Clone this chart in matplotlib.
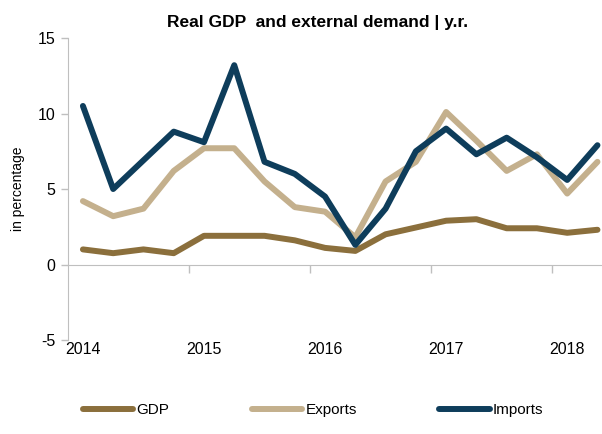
import numpy as np
import matplotlib.pyplot as plt

plt.rcParams['font.family'] = ['Liberation Sans Narrow', 'Liberation Sans', 'DejaVu Sans']
plt.rcParams['axes.unicode_minus'] = False

# quarterly data 2014Q1 - 2018Q2, y/y %
gdp = [1.0, 0.75, 1.0, 0.75, 1.9, 1.9, 1.9, 1.6, 1.1, 0.9, 2.0, 2.45, 2.9, 3.0, 2.4, 2.4, 2.1, 2.3]
exports = [4.2, 3.2, 3.7, 6.2, 7.7, 7.7, 5.5, 3.8, 3.5, 1.8, 5.5, 6.8, 10.1, 8.2, 6.2, 7.3, 4.7, 6.8]
imports = [10.5, 5.0, 6.9, 8.8, 8.1, 13.2, 6.8, 6.0, 4.5, 1.3, 3.7, 7.5, 9.0, 7.3, 8.4, 7.1, 5.6, 7.9]
years = ['2014', '2015', '2016', '2017', '2018']

x = np.arange(len(gdp))

fig = plt.figure(figsize=(6.02, 4.34), dpi=100)
ax = fig.add_axes([0.1126, 0.2166, 0.905, 0.6958])

ax.plot(x, gdp, color='#8B6F3C', lw=4.3, label='GDP', solid_capstyle='round')
ax.plot(x, exports, color='#C4B08D', lw=4.3, label='Exports', solid_capstyle='round')
ax.plot(x, imports, color='#0E3D5B', lw=4.3, label='Imports', solid_capstyle='round')

ax.set_xlim(-0.5, 17.5)
ax.set_ylim(-5, 15)
ax.set_yticks([-5, 0, 5, 10, 15])
ax.tick_params(axis='y', labelsize=11.5, length=5, color='#BFBFBF', width=1, pad=4)

for s in ['top', 'right']:
    ax.spines[s].set_visible(False)
ax.spines['left'].set_color('#BFBFBF')
ax.spines['bottom'].set_color('#BFBFBF')
ax.spines['bottom'].set_position(('data', 0))

# year separators as ticks on the zero line, year labels at the bottom
ax.set_xticks(np.arange(3.5, 17, 4))
ax.set_xticklabels([])
ax.tick_params(axis='x', length=6, color='#BFBFBF', width=1)
for i, yr in enumerate(years):
    ax.text(i * 4, -0.005, yr, transform=ax.get_xaxis_transform(),
            ha='center', va='top', fontsize=11.5)

ax.set_ylabel('in percentage', fontsize=10, labelpad=9)
fig.text(0.528, 0.948, 'Real GDP  and external demand | y.r.', ha='center', va='center',
         fontsize=12.5, fontweight='bold')

fig.legend(loc='center', bbox_to_anchor=(0.52, 0.055), ncol=3, frameon=False,
           fontsize=11, handlelength=3.3, handletextpad=0.2, columnspacing=5.4)

plt.savefig('out.png', dpi=100)
